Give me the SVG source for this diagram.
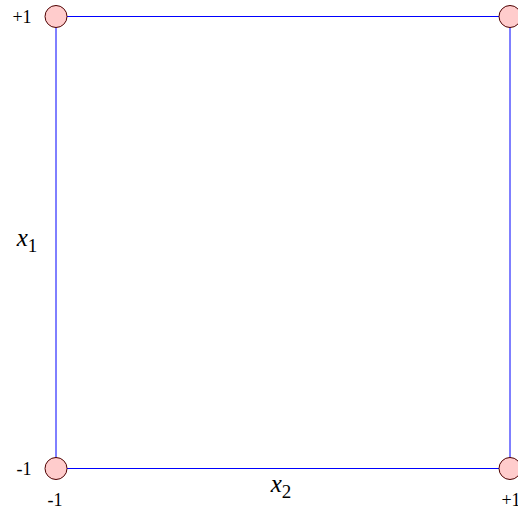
<svg xmlns="http://www.w3.org/2000/svg" width="518" height="510" viewBox="0 0 518 510">
<style>
.e{stroke:#0000ff;stroke-width:1;fill:none}
.n{fill:#ffcccc;stroke:#4d0000;stroke-width:1}
.t{font-family:"Liberation Serif","DejaVu Serif",serif;font-size:18px;fill:#000}
.m{font-family:"Liberation Serif","DejaVu Serif",serif;font-style:italic;font-size:25px;fill:#000}
.s{font-family:"Liberation Serif","DejaVu Serif",serif;font-style:normal;font-size:19px}
</style>
<rect width="518" height="510" fill="#fff"/>
<g id="connectors">
<line class="e" x1="56" y1="16.5" x2="510" y2="16.5"/>
<line class="e" x1="56" y1="16" x2="56" y2="468"/>
<line class="e" x1="56" y1="468.5" x2="510" y2="468.5"/>
<line class="e" x1="510" y1="16" x2="510" y2="468"/>
</g>
<g id="n1"><circle class="n" cx="56" cy="16.5" r="11"/></g>
<g id="n2"><circle class="n" cx="510" cy="16.5" r="11"/></g>
<g id="n3"><circle class="n" cx="56" cy="468.5" r="11"/></g>
<g id="n4"><circle class="n" cx="510" cy="468.5" r="11"/></g>
<g id="labels">
<text class="t" x="22" y="23" text-anchor="middle">+1</text>
<text class="t" x="24" y="475" text-anchor="middle">-1</text>
<text class="t" x="55" y="506" text-anchor="middle">-1</text>
<text class="t" x="511" y="506" text-anchor="middle">+1</text>
<text class="m" x="27" y="246" text-anchor="middle">x<tspan class="s" dy="6">1</tspan></text>
<text class="m" x="281" y="492" text-anchor="middle">x<tspan class="s" dy="6">2</tspan></text>
</g>
</svg>
